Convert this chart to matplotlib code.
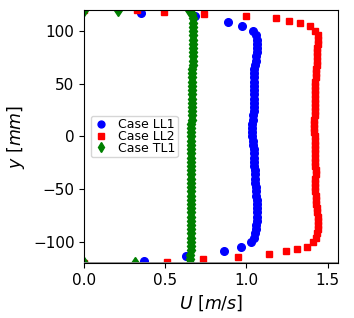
import numpy as np
import matplotlib
matplotlib.use("Agg")
import matplotlib.pyplot as plt

# ==========================
# DATA
# ==========================
# Case LL1 (blue circles)
y_ll1 = [117, 114.5, 109, 105, 100,
         96, 92, 88, 84, 80, 76, 72, 68, 64, 60, 56, 52, 48, 44, 40, 36, 32, 28, 24, 20,
         16, 12, 8, 4, 0, -4, -8, -12, -16, -20, -24, -28, -32, -36, -40, -44, -48, -52,
         -56, -60, -64, -68, -72, -76, -80, -84, -88, -92, -96,
         -100, -104.5, -109, -113, -118.5]
u_ll1 = [0.350, 0.680, 0.888, 0.970, 1.042,
         1.058, 1.063, 1.065, 1.064, 1.062, 1.060, 1.056, 1.052, 1.049, 1.048, 1.047, 1.047,
         1.046, 1.046, 1.047, 1.046, 1.045, 1.045, 1.044, 1.042, 1.040, 1.037, 1.036, 1.036,
         1.037, 1.040, 1.042, 1.044, 1.045, 1.046, 1.048, 1.049, 1.050, 1.051, 1.052, 1.054,
         1.056, 1.058, 1.060, 1.062, 1.063, 1.064, 1.064, 1.063, 1.062, 1.060, 1.058, 1.054,
         1.046,
         1.030, 0.964, 0.861, 0.627, 0.366]

# Case LL2 (red squares)
y_ll2 = [120, 120, 118, 116, 114, 112, 109.5, 107.3, 105,
         100, 96, 92, 88, 84, 80, 76, 72, 68, 64, 60, 56, 52, 48, 44, 40, 36, 32, 28, 24,
         20, 16, 12, 8, 4, 0, -4, -8, -12, -16, -20, -24, -28, -32, -36, -40, -44, -48,
         -52, -56, -60, -64, -68, -72, -76, -80, -84, -88, -92, -96, -100,
         -104.8, -107, -109, -111.7, -114, -116.3, -119, -120]
u_ll2 = [0.000, 0.323, 0.493, 0.740, 1.000, 1.180, 1.264, 1.330, 1.390,
         1.425, 1.438, 1.440, 1.438, 1.436, 1.435, 1.434, 1.433, 1.432, 1.430, 1.428, 1.426,
         1.425, 1.424, 1.424, 1.423, 1.422, 1.422, 1.421, 1.420, 1.420, 1.419, 1.418, 1.418,
         1.419, 1.420, 1.421, 1.422, 1.423, 1.424, 1.424, 1.425, 1.425, 1.426, 1.426, 1.425,
         1.424, 1.424, 1.425, 1.427, 1.429, 1.431, 1.433, 1.436, 1.438, 1.440, 1.441, 1.440,
         1.436, 1.428, 1.412,
         1.371, 1.313, 1.242, 1.140, 0.950, 0.734, 0.512, 0.000]

# Case TL1 (green diamonds)
y_tl1 = [120, 120, 120,
         116, 112, 108, 104, 100, 96, 92, 88, 84, 80, 76, 72, 68, 64, 60, 56, 52, 48, 44,
         40, 36, 32, 28, 24, 20, 16, 12, 8, 4, 0, -4, -8, -12, -16, -20, -24, -28, -32,
         -36, -40, -44, -48, -52, -56, -60, -64, -68, -72, -76, -80, -84, -88, -92, -96,
         -100, -104, -108, -112, -116,
         -120, -120, -120]
u_tl1 = [0.000, 0.210, 0.645,
         0.662, 0.670, 0.672, 0.672, 0.671, 0.671, 0.670, 0.670, 0.669, 0.669, 0.668, 0.668,
         0.668, 0.667, 0.667, 0.666, 0.666, 0.666, 0.665, 0.665, 0.664, 0.664, 0.663, 0.663,
         0.662, 0.662, 0.661, 0.661, 0.660, 0.660, 0.660, 0.659, 0.659, 0.659, 0.658, 0.658,
         0.658, 0.657, 0.657, 0.657, 0.656, 0.656, 0.656, 0.656, 0.655, 0.655, 0.655, 0.655,
         0.655, 0.655, 0.655, 0.655, 0.655, 0.655, 0.655, 0.655, 0.655, 0.654, 0.652,
         0.650, 0.314, 0.000]

# ==========================
# PLOT
# ==========================
fig = plt.figure(figsize=(3.54, 3.18), dpi=100)
ax = fig.add_axes([0.238, 0.173, 0.7176, 0.7956])

ax.plot(u_ll1, y_ll1, 'o', color='blue', ms=5.5, label='Case LL1')
ax.plot(u_ll2, y_ll2, 's', color='red', ms=5, label='Case LL2')
ax.plot(u_tl1, y_tl1, 'd', color='green', ms=6, label='Case TL1')

ax.axhline(-120, color='gray', lw=2, zorder=5)

ax.set_xlim(0, 1.566)
ax.set_ylim(-120, 120)
ax.set_xticks([0.0, 0.5, 1.0, 1.5])
ax.set_yticks([-100, -50, 0, 50, 100])
ax.tick_params(labelsize=11)

ax.set_xlabel(r'$U$ [$m/s$]', fontsize=12.5)
ax.set_ylabel(r'$y$ [$mm$]', fontsize=12.5)

ax.legend(loc='center left', fontsize=9, labelspacing=-0.1,
          handlelength=1.2, handletextpad=0.8, borderpad=0.2,
          borderaxespad=0.5, markerscale=0.9)

fig.savefig('out.png', dpi=100)
